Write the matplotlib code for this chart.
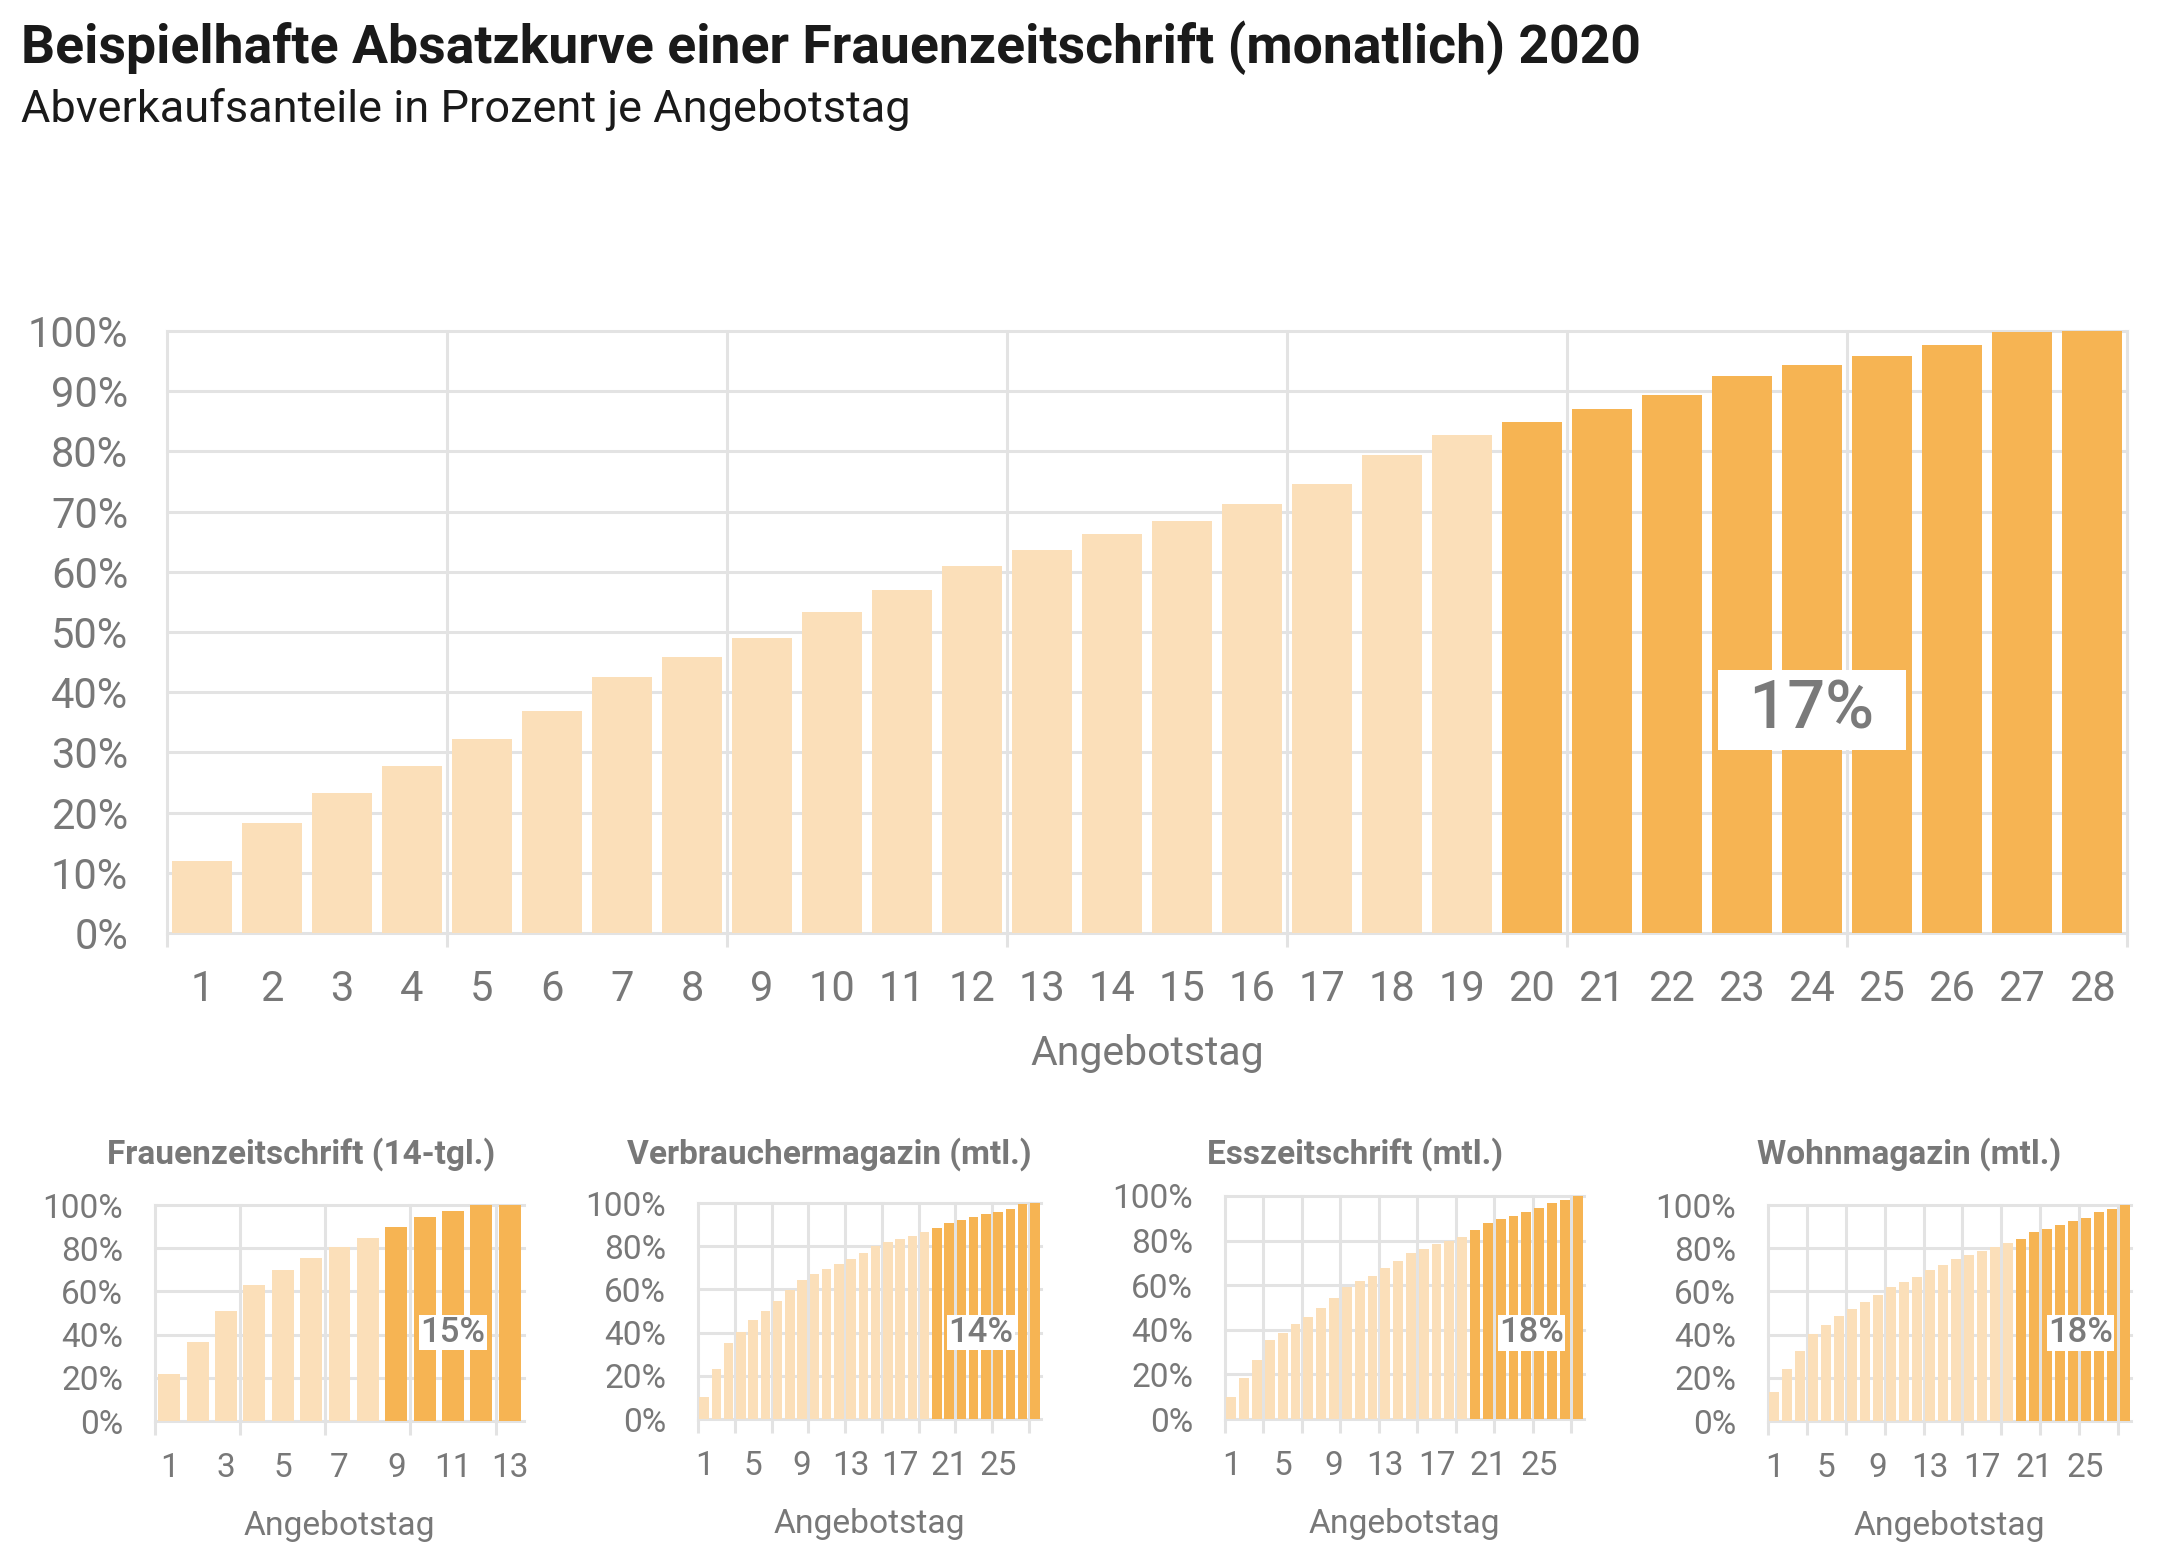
import matplotlib
matplotlib.use('Agg')
import matplotlib.pyplot as plt
import numpy as np

plt.rcParams['font.family'] = ['Roboto', 'DejaVu Sans']

# Hauptchart: Frauenzeitschrift monatlich, kumulierter Abverkauf je Angebotstag
days_main = list(range(1, 29))
share_main = [12.0, 18.3, 23.3, 27.8, 32.3, 36.9, 42.5, 45.9, 49.0, 53.3,
              56.9, 61.0, 63.7, 66.2, 68.5, 71.2, 74.6, 79.4, 82.7, 84.9,
              87.1, 89.3, 92.6, 94.3, 95.9, 97.6, 99.8, 100.0]
label_main = '17%'

# kleine Charts
titles_small = ['Frauenzeitschrift (14-tgl.)', 'Verbrauchermagazin (mtl.)',
                'Esszeitschrift (mtl.)', 'Wohnmagazin (mtl.)']
share_frau14 = [21.8, 36.8, 50.9, 63.0, 69.8, 75.5, 80.4, 84.5, 89.8, 94.6,
                97.2, 100.0, 100.0]
share_verbraucher = [10.2, 23.0, 35.1, 40.5, 45.7, 50.1, 54.4, 59.5, 64.5, 67.2,
                     69.6, 71.9, 74.0, 76.8, 80.2, 81.8, 83.3, 84.9, 86.4, 88.4,
                     90.9, 92.3, 93.5, 94.9, 96.0, 97.4, 99.4, 100.0]
share_ess = [9.9, 18.2, 26.3, 35.3, 38.6, 42.5, 45.9, 49.8, 54.3, 59.3,
             61.7, 64.3, 67.6, 71.0, 74.3, 76.4, 78.6, 79.8, 81.8, 84.8,
             87.9, 89.7, 90.9, 92.7, 94.5, 96.9, 98.4, 100.0]
share_wohn = [13.4, 23.9, 32.3, 40.3, 44.4, 48.6, 51.9, 55.1, 58.3, 62.0,
              64.2, 66.7, 69.9, 72.2, 75.0, 76.9, 78.7, 80.6, 82.2, 84.3,
              87.3, 88.9, 90.6, 92.4, 94.1, 96.6, 98.0, 100.0]
shares_small = [share_frau14, share_verbraucher, share_ess, share_wohn]
labels_small = ['15%', '14%', '18%', '18%']
highlight_small = [9, 20, 20, 20]   # ab diesem Tag dunkel

LIGHT = '#FBDFB9'
DARK = '#F6B453'
GRID = '#E3E3E3'
GREY = '#787878'

W, H = 2164, 1554
fig = plt.figure(figsize=(W / 100, H / 100), dpi=100)


def box(l, t, r, b):
    return [l / W, 1 - b / H, (r - l) / W, (b - t) / H]


def styleAxes(ax, n, gridStep, ticklabels, yStep, tickSize, ypad, xpad):
    ax.set_xlim(0.5, n + 0.5)
    ax.set_ylim(0, 100)
    for s in ax.spines.values():
        s.set_visible(False)
    ax.set_xticks(ticklabels)
    ax.set_xticklabels([str(t) for t in ticklabels])
    ax.set_xticks(np.arange(0.5, n + 0.51, gridStep), minor=True)
    ax.set_yticks(np.arange(0, 101, yStep))
    ax.set_yticklabels([str(int(v)) + '%' for v in np.arange(0, 101, yStep)])
    ax.tick_params(axis='x', which='major', length=0, labelsize=tickSize, labelcolor=GREY, pad=xpad)
    ax.tick_params(axis='x', which='minor', length=10, width=2.2, color=GRID)
    ax.tick_params(axis='y', length=0, labelsize=tickSize, labelcolor=GREY, pad=ypad)
    ax.grid(axis='x', which='minor', color=GRID, linewidth=2.2)
    ax.grid(axis='y', which='major', color=GRID, linewidth=2.2)
    ax.set_axisbelow(True)
    for t in ax.xaxis.get_minor_ticks() + ax.yaxis.get_major_ticks():
        t.gridline.set_clip_on(False)


def plotBars(ax, values, darkFrom, width):
    days = np.arange(1, len(values) + 1)
    colors = [DARK if d >= darkFrom else LIGHT for d in days]
    ax.bar(days, values, width=width, color=colors, zorder=2)


# Titel
fig.text(21 / W, 1 - 63 / H, 'Beispielhafte Absatzkurve einer Frauenzeitschrift (monatlich) 2020',
         fontsize=38.5, fontweight='bold', color='#1a1a1a', va='baseline')
fig.text(21 / W, 1 - 122 / H, 'Abverkaufsanteile in Prozent je Angebotstag',
         fontsize=32.5, color='#1a1a1a', va='baseline')

# Hauptchart
ax = fig.add_axes(box(167, 331, 2127, 933))
plotBars(ax, share_main, 20, 0.87)
styleAxes(ax, 28, 4, days_main, 10, 30, 28, 26)
ax.set_xlabel('Angebotstag', fontsize=29.5, color=GREY, labelpad=17)
ax.text(24.0, 37.0, ' \u200a' + label_main + ' \u200a', fontsize=48, fontweight='medium', color='#7a7a7a',
        ha='center', va='center', zorder=5,
        bbox=dict(boxstyle='square,pad=0.12', facecolor='white', edgecolor='none'))

# kleine Charts
smallBoxes = [(155, 1205, 524, 1421), (698, 1203, 1041, 1419),
              (1225, 1196, 1584, 1419), (1768, 1205, 2131, 1421)]
titleX = [301, 829, 1355, 1909]
labelPos = [(11.0, 41.0), (23.6, 40.0), (24.4, 38.7), (24.6, 40.9)]

for i in range(4):
    values = shares_small[i]
    n = len(values)
    a = fig.add_axes(box(*smallBoxes[i]))
    plotBars(a, values, highlight_small[i], 0.77)
    if n == 13:
        ticks = list(range(1, 14, 2))
    else:
        ticks = list(range(1, 26, 4))
    styleAxes(a, n, 3, ticks, 20, 24, 23, 22)
    a.set_xlabel('Angebotstag', fontsize=24.2, color=GREY, labelpad=19)
    a.text(labelPos[i][0], labelPos[i][1], labels_small[i], fontsize=25, fontweight='medium',
           color='#7a7a7a', ha='center', va='center', zorder=5,
           bbox=dict(boxstyle='square,pad=0.04', facecolor='white', edgecolor='none'))
    fig.text(titleX[i] / W, 1 - 1154 / H, titles_small[i], fontsize=24, fontweight='bold',
             color=GREY, ha='center', va='center')

plt.savefig('out.png', dpi=100)
plt.close()
